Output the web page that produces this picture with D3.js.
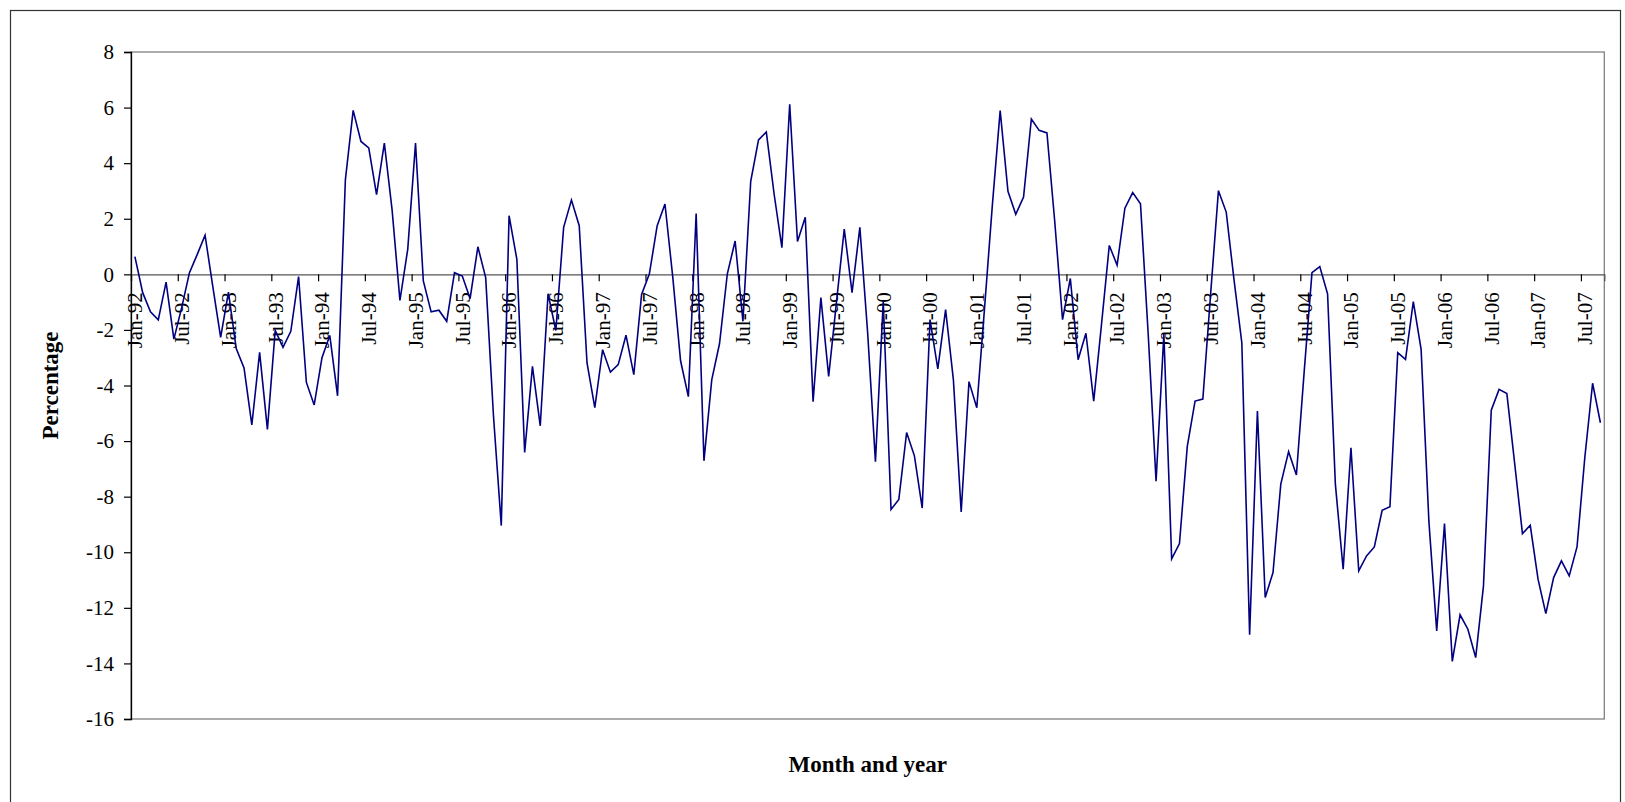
<!DOCTYPE html>
<html>
<head>
<meta charset="utf-8">
<script src="https://cdn.jsdelivr.net/npm/d3@7"></script>
<style>
  body { margin: 0; background: #fff; }
  svg { display: block; font-family: "Liberation Serif", "Times New Roman", serif; }
</style>
</head>
<body>
<div id="chart"></div>
<script>
// Monthly series, Jan-92 .. Sep-07
const years = d3.range(1992, 2008);
const monthNames = ['Jan','Feb','Mar','Apr','May','Jun','Jul','Aug','Sep','Oct','Nov','Dec'];
const lastMonthIndex = 8; // Sep-07

const values = [
  0.64, -0.66, -1.35, -1.64, -0.28, -2.33, -1.2, 0.06, 0.72, 1.41, -0.45, -2.27,
  -0.64, -2.67, -3.37, -5.42, -2.81, -5.58, -2.02, -2.63, -2.05, -0.08, -3.89, -4.7,
  -3.0, -2.2, -4.37, 3.40, 5.9, 4.78, 4.55, 2.87, 4.72, 2.3, -0.94, 0.90,
  4.72, -0.24, -1.35, -1.29, -1.69, 0.06, -0.06, -0.87, 0.99, -0.12, -5.1, -9.04,
  2.11, 0.54, -6.41, -3.31, -5.45, -0.70, -2.02, 1.69, 2.67, 1.75, -3.19, -4.80,
  -2.71, -3.52, -3.25, -2.19, -3.61, -0.72, 0.02, 1.75, 2.53, -0.1, -3.11, -4.40,
  2.19, -6.71, -3.80, -2.49, 0.02, 1.20, -1.69, 3.35, 4.84, 5.12, 2.89, 0.96,
  6.12, 1.18, 2.05, -4.58, -0.84, -3.67, -1.0, 1.63, -0.66, 1.69, -2.1, -6.74,
  -0.98, -8.46, -8.10, -5.69, -6.53, -8.41, -1.63, -3.40, -1.27, -3.80, -8.55, -3.86,
  -4.80, -1.2, 2.5, 5.89, 2.99, 2.16, 2.78, 5.59, 5.18, 5.09, 1.9, -1.63,
  -0.15, -3.07, -2.12, -4.56, -1.8, 1.04, 0.33, 2.38, 2.94, 2.54, -2.2, -7.44,
  -2.15, -10.24, -9.69, -6.20, -4.56, -4.49, -0.7, 3.01, 2.24, -0.2, -2.46, -12.97,
  -4.92, -11.63, -10.73, -7.55, -6.38, -7.22, -3.5, 0.06, 0.28, -0.70, -7.55, -10.61,
  -6.24, -10.67, -10.13, -9.81, -8.49, -8.36, -2.82, -3.06, -0.98, -2.70, -8.9, -12.83,
  -8.97, -13.93, -12.25, -12.77, -13.79, -11.21, -4.89, -4.14, -4.29, -6.8, -9.33, -9.03,
  -10.97, -12.21, -10.91, -10.31, -10.85, -9.81, -6.59, -3.92, -5.34
];

const tickLabels = [
  'Jan-92','Jul-92','Jan-93','Jul-93','Jan-94','Jul-94','Jan-95','Jul-95',
  'Jan-96','Jul-96','Jan-97','Jul-97','Jan-98','Jul-98','Jan-99','Jul-99',
  'Jan-00','Jul-00','Jan-01','Jul-01','Jan-02','Jul-02','Jan-03','Jul-03',
  'Jan-04','Jul-04','Jan-05','Jul-05','Jan-06','Jul-06','Jan-07','Jul-07'
];

const yTicks = [8, 6, 4, 2, 0, -2, -4, -6, -8, -10, -12, -14, -16];

const months = [];
years.forEach(yr => monthNames.forEach((m, k) => {
  if (yr < 2007 || k <= lastMonthIndex) months.push(m + '-' + String(yr).slice(2));
}));
const data = months.map((m, i) => ({ month: m, value: values[i] }));

const width = 1625, height = 802;
const plotLeft = 131, plotRight = 1604.3, plotTop = 52, plotBottom = 719;

const svg = d3.select('#chart').append('svg')
  .attr('width', width)
  .attr('height', height);

// outer chart frame
svg.append('rect')
  .attr('x', 10.5).attr('y', 10.5)
  .attr('width', 1610).attr('height', 800)
  .attr('fill', 'none')
  .attr('stroke', '#333')
  .attr('stroke-width', 1.2);

const x = d3.scaleBand().domain(months).range([plotLeft, plotRight]).paddingInner(0).paddingOuter(0);
const xb = d3.scaleLinear().domain([0, months.length]).range([plotLeft, plotRight]);
const y = d3.scaleLinear().domain([-16, 8]).range([plotBottom, plotTop]);

// plot area border
svg.append('rect')
  .attr('x', plotLeft).attr('y', plotTop)
  .attr('width', plotRight - plotLeft).attr('height', plotBottom - plotTop)
  .attr('fill', 'none')
  .attr('stroke', '#808080')
  .attr('stroke-width', 1.3);

// y axis
const yAxis = svg.append('g')
  .attr('transform', `translate(${plotLeft},0)`)
  .call(d3.axisLeft(y).tickValues(yTicks).tickSize(7).tickPadding(10).tickFormat(d => String(d)));
yAxis.select('.domain').attr('stroke', '#000').attr('stroke-width', 1.3);
yAxis.selectAll('.tick line').attr('stroke', '#000').attr('stroke-width', 1.2);
yAxis.selectAll('text')
  .attr('font-size', 21)
  .attr('font-family', '"Liberation Serif", "Times New Roman", serif')
  .attr('fill', '#000');

// x axis at zero: tick marks on category boundaries
const x0 = y(0);
const xTicksAxis = svg.append('g')
  .attr('transform', `translate(0,${x0})`)
  .call(d3.axisBottom(xb).tickValues(d3.range(0, months.length, 6)).tickSize(7).tickFormat(''));
xTicksAxis.select('.domain').attr('stroke', '#555').attr('stroke-width', 1.3);
xTicksAxis.selectAll('.tick line').attr('stroke', '#000').attr('stroke-width', 1.2);

// category labels
const xLabelAxis = svg.append('g')
  .attr('transform', `translate(0,${x0})`)
  .call(d3.axisBottom(x).tickValues(tickLabels).tickSize(0).tickFormat(d => d));
xLabelAxis.select('.domain').remove();
xLabelAxis.selectAll('text')
  .attr('font-size', 21)
  .attr('font-family', '"Liberation Serif", "Times New Roman", serif')
  .attr('fill', '#000')
  .attr('text-anchor', 'end')
  .attr('transform', 'translate(0,18) rotate(-90)')
  .attr('x', 0).attr('y', 0).attr('dy', '0.35em');

// series line
const line = d3.line()
  .x(d => x(d.month) + x.bandwidth() / 2)
  .y(d => y(d.value));

svg.append('path')
  .datum(data)
  .attr('fill', 'none')
  .attr('stroke', '#000080')
  .attr('stroke-width', 1.6)
  .attr('stroke-linejoin', 'miter')
  .attr('d', line);

// axis titles
svg.append('text')
  .attr('x', (plotLeft + plotRight) / 2)
  .attr('y', 772)
  .attr('text-anchor', 'middle')
  .attr('font-size', 23)
  .attr('font-weight', 'bold')
  .text('Month and year');

svg.append('text')
  .attr('transform', `translate(58,${(plotTop + plotBottom) / 2}) rotate(-90)`)
  .attr('text-anchor', 'middle')
  .attr('font-size', 23)
  .attr('font-weight', 'bold')
  .text('Percentage');
</script>
</body>
</html>
